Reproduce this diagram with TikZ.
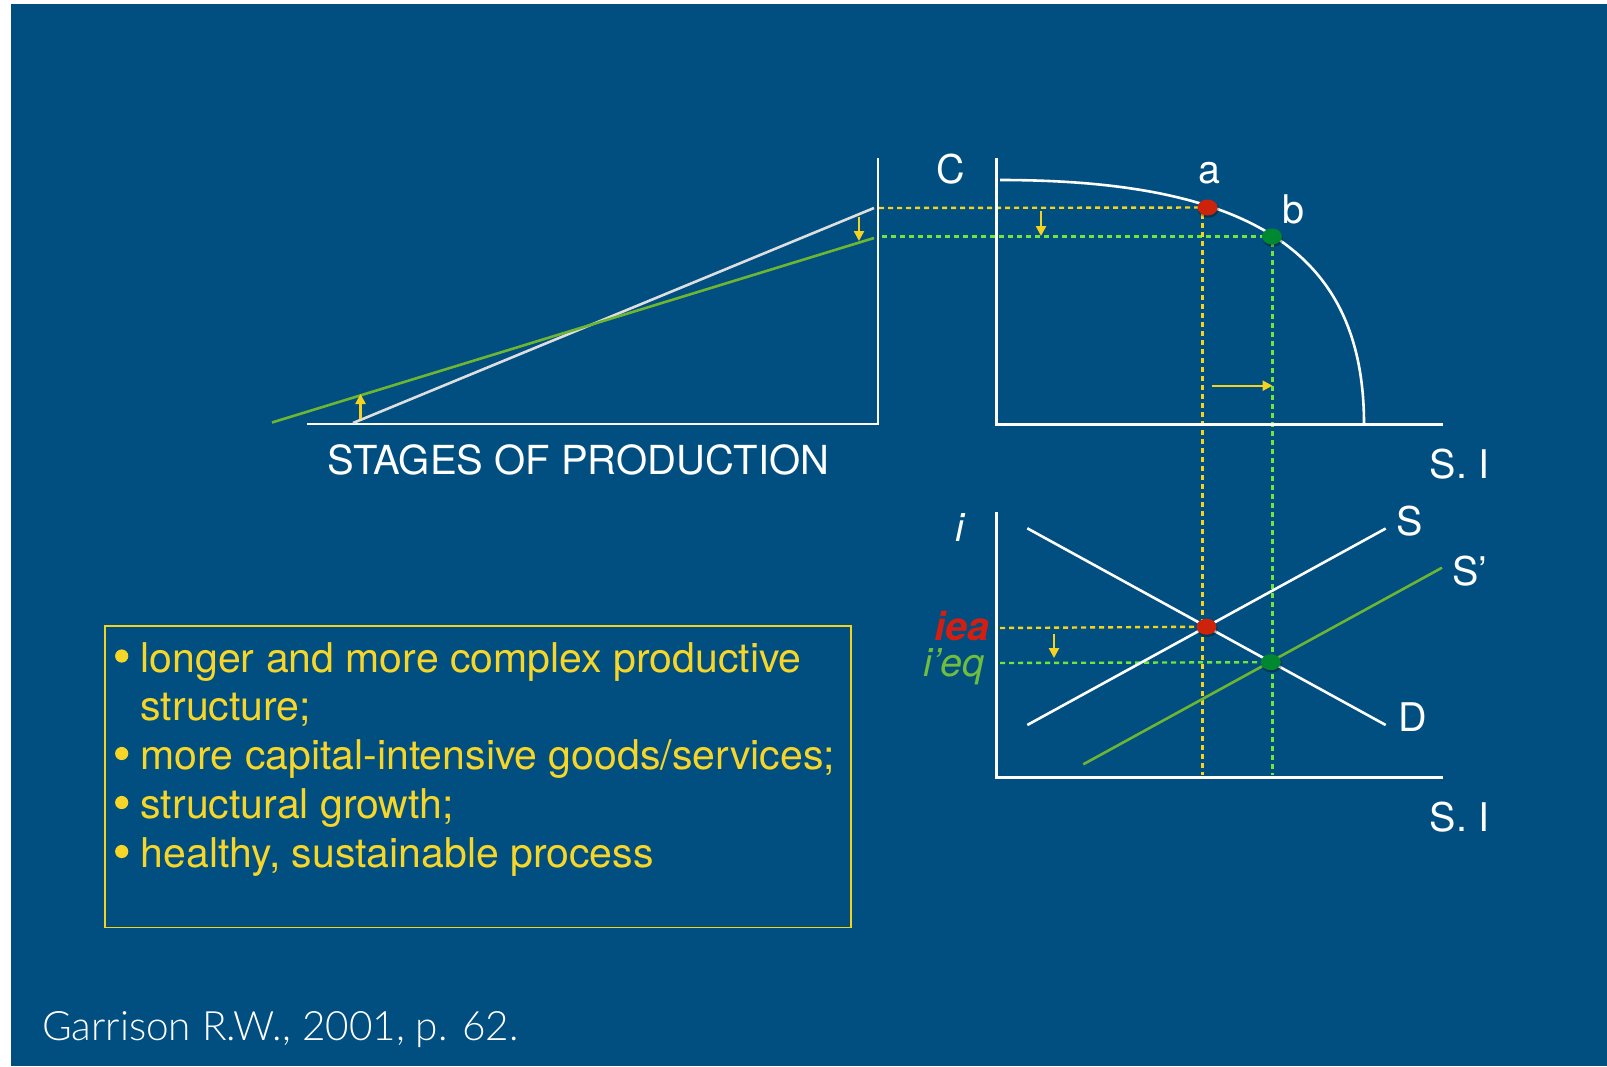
\documentclass[tikz,border=0pt]{standalone}
\usepackage{fontspec}
\setmainfont{TeX Gyre Heros}
\newfontfamily\lightfont{Lato Light}
\usetikzlibrary{arrows.meta}
\definecolor{bg}{RGB}{0,79,128}
\definecolor{yel}{RGB}{245,210,30}
\definecolor{ytext}{RGB}{248,214,40}
\definecolor{gline}{RGB}{110,182,50}
\definecolor{gdash}{RGB}{115,228,60}
\definecolor{reddot}{RGB}{205,35,10}
\definecolor{greendot}{RGB}{0,135,50}
\definecolor{redlbl}{RGB}{212,30,18}
\definecolor{greenlbl}{RGB}{112,190,62}
\definecolor{gwhite}{RGB}{222,222,222}
\tikzset{
  lbl/.style={inner sep=0pt, text=white, font=\fontsize{39.5}{47}\selectfont},
  boxtxt/.style={inner sep=0pt, text=ytext, font=\fontsize{41}{49}\selectfont, anchor=base west},
  bulletdot/.style={fill=ytext},
  axisline/.style={draw=white, line width=2.6pt},
  curveline/.style={draw=white, line width=2.6pt},
  greenline/.style={draw=gline, line width=2.6pt},
  ydash/.style={draw=yel, line width=2.4pt, dash pattern=on 5pt off 4pt},
  gdashed/.style={draw=gdash, line width=2.4pt, dash pattern=on 5pt off 4pt},
  yarrow/.style={draw=yel, line width=2.4pt, -{Triangle[length=10pt,width=10pt]}, yel},
  rdot/.style={fill=reddot},
  gdot/.style={fill=greendot}
}
\begin{document}
\begin{tikzpicture}[x=1pt,y=-1pt]
\useasboundingbox (0,0) rectangle (1607,1066);
\fill[white] (0,0) rectangle (1607,1066);
\fill[bg] (11,4) rectangle (1607,1066);

% ---------- coordinates ----------
% stages panel
\coordinate (stTop) at (878,158);
\coordinate (stBot) at (878,424);
\coordinate (stLeft) at (307,424);
\coordinate (w0) at (353,423);
\coordinate (w1) at (874,208);
\coordinate (g0) at (272,422.5);
\coordinate (g1) at (874,238);
\coordinate (ua0) at (360.5,419);
\coordinate (ua1) at (360.5,394);
\coordinate (da0) at (859,217);
\coordinate (da1) at (859,241);
% C panel
\coordinate (cTop) at (996.5,158);
\coordinate (cO) at (996.5,424.5);
\coordinate (cEnd) at (1443,424.5);
\coordinate (ppf0) at (1000,180);
\coordinate (ppf1) at (1364,424);
\coordinate (A) at (1207.5,207.5);
\coordinate (B) at (1272,236.5);
\coordinate (yh0) at (879,208);
\coordinate (gh0) at (882,236.5);
\coordinate (ca0) at (1041,211);
\coordinate (ca1) at (1041,236);
\coordinate (ha0) at (1211.5,385.7);
\coordinate (ha1) at (1272.5,385.7);
\coordinate (yv0) at (1202.3,214);
\coordinate (yv1) at (1202.3,775);
\coordinate (gv0) at (1272.3,242);
\coordinate (gv1) at (1272.3,775);
% i panel
\coordinate (iTop) at (996.7,511.7);
\coordinate (iO) at (996.7,777.5);
\coordinate (iEnd) at (1443,777.5);
\coordinate (d0) at (1027.3,528.3);
\coordinate (d1) at (1385.7,725);
\coordinate (s0) at (1027.3,725);
\coordinate (s1) at (1385.7,528.5);
\coordinate (sp0) at (1083.3,764.3);
\coordinate (sp1) at (1442,567.7);
\coordinate (E1) at (1206.5,626.7);
\coordinate (E2) at (1270.8,662.2);
\coordinate (yl0) at (1000,628);
\coordinate (gl0) at (1000,663);
\coordinate (ia0) at (1054,634);
\coordinate (ia1) at (1054,658);

% ---------- dashed guides ----------
\draw[ydash] (yh0) -- (A);
\draw[gdashed] (gh0) -- (B);
\draw[ydash] (yv0) -- (yv1);
\draw[gdashed] (gv0) -- (gv1);
\draw[ydash] (yl0) -- (E1);
\draw[gdashed] (gl0) -- (E2);

% ---------- stages of production ----------
\draw[axisline] (stTop) -- (stBot) -- (stLeft);
\draw[draw=gwhite, line width=2.6pt] (w0) -- (w1);
\draw[greenline] (g0) -- (g1);
\draw[yarrow] (ua0) -- (ua1);
\draw[yarrow] (da0) -- (da1);
\node[lbl, anchor=base, font=\fontsize{40}{47}\selectfont] (stages) at (578.5,474) {STAGES OF PRODUCTION};

% ---------- PPF panel ----------
\draw[axisline] (cTop) -- (cO) -- (cEnd);
\draw[curveline] (ppf0) .. controls (1250,180) and (1364,252) .. (ppf1);
\draw[yarrow] (ca0) -- (ca1);
\draw[yarrow] (ha0) -- (ha1);
\node[lbl, anchor=base] (lC) at (951,183) {C};
\node[lbl, anchor=base] (la) at (1209,183) {a};
\node[lbl, anchor=base] (lb) at (1293,223) {b};
\node[lbl, anchor=base] (lSI1) at (1459.5,478) {S. I};

% ---------- loanable funds panel ----------
\draw[axisline] (iTop) -- (iO) -- (iEnd);
\draw[curveline] (d0) -- (d1);
\draw[curveline] (s0) -- (s1);
\draw[greenline] (sp0) -- (sp1);
\draw[yarrow] (ia0) -- (ia1);
\node[lbl, anchor=base] (li) at (960,541.7) {\itshape i};
\node[lbl, anchor=base] (lS) at (1410,535) {S};
\node[lbl, anchor=base west] (lSp) at (1452,585) {S’};
\node[lbl, anchor=base west] (lD) at (1398,731.5) {D};
\node[lbl, anchor=base] (lSI2) at (1459.5,831.5) {S. I};
\node[lbl, anchor=base east, text=redlbl] (lieq) at (989.3,640) {\bfseries\itshape iea};
\node[lbl, anchor=base east, text=greenlbl] (lipeq) at (985,676.7) {\itshape i’eq};

% ---------- dots ----------
\foreach \p/\s in {A/rdot, B/gdot, E1/rdot, E2/gdot}{
  \fill[black, opacity=0.3] ([shift={(0.8,1.8)}]\p) ellipse [x radius=10.5pt, y radius=8.5pt];
  \fill[\s] (\p) ellipse [x radius=10pt, y radius=8pt];
}

% ---------- text box ----------
\draw[draw=yel, line width=1.3pt] (105,626) rectangle (851,927.5);
\node[boxtxt] (t1) at (140.5,672) {longer and more complex productive};
\node[boxtxt] (t1b) at (140.5,720.5) {structure;};
\node[boxtxt] (t2) at (140.5,769.5) {more capital-intensive goods/services;};
\node[boxtxt] (t3) at (140.5,818.5) {structural growth;};
\node[boxtxt] (t4) at (140.5,867.5) {healthy, sustainable process};
\foreach \b in {656,753.5,802.5,851.5}{
  \fill[bulletdot] (121.7,\b) circle (6.6pt);
}

% ---------- source ----------
\node[lbl, anchor=base west, font=\lightfont\fontsize{40.5}{47}\selectfont] (src) at (42,1040) {Garrison R.W., 2001, p. 62.};
\end{tikzpicture}
\end{document}
